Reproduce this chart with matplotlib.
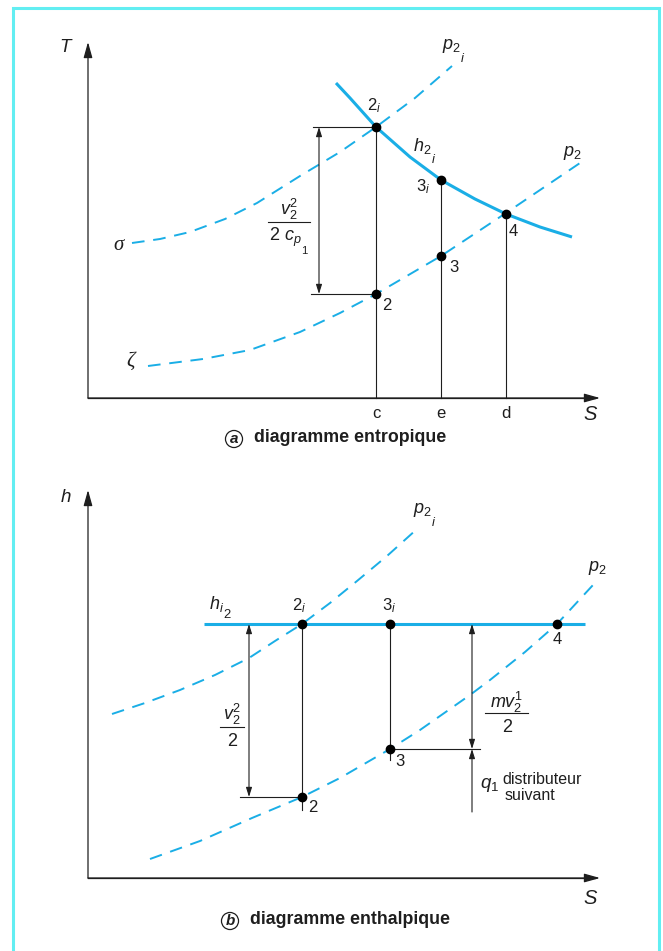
import matplotlib
matplotlib.use("Agg")
import matplotlib.pyplot as plt
from matplotlib.patches import Rectangle

plt.rcParams['font.family'] = ['Liberation Sans', 'DejaVu Sans']
plt.rcParams['mathtext.fontset'] = 'custom'
plt.rcParams['mathtext.rm'] = 'Liberation Sans'
plt.rcParams['mathtext.it'] = 'Liberation Sans:italic'
plt.rcParams['mathtext.bf'] = 'Liberation Sans:bold'

CYAN = '#1aaee6'
INK = '#1e1e1e'
FRAME = '#62eef2'

# ---------- (a) diagramme entropique : S horizontal, T vertical ----------
a_tick_labels = ['c', 'e', 'd']
a_tick_s = [288, 353, 418]

# isobar p2i (sigma)
a_sigma_s = [44, 72, 102, 137, 169, 212, 252, 288, 327, 364]
a_sigma_t = [155, 159, 166, 179, 195, 222, 246, 271, 300, 332]
# isobar p2 (zeta)
a_zeta_s = [60, 115, 162, 212, 252, 288, 353, 418, 492]
a_zeta_t = [32, 39, 48, 66, 85, 104, 142, 185, 235]
# iso-enthalpic h2i
a_h2i_s = [248, 262, 288, 322, 353, 387, 418, 452, 484]
a_h2i_t = [315, 300, 271, 241, 218, 199, 184, 171, 161]

a_point_names = ['$2_i$', '$3_i$', '4', '2', '3']
a_point_s = [288, 353, 418, 288, 353]
a_point_t = [271, 218, 184, 104, 142]

# ---------- (b) diagramme enthalpique : S horizontal, h vertical ----------
b_p2i_s = [24, 57, 92, 127, 161, 187, 214, 242, 269, 299, 329]
b_p2i_h = [164, 175, 188, 203, 220, 237, 254, 275, 297, 322, 349]
b_p2_s = [62, 112, 164, 214, 252, 302, 332, 382, 402, 437, 469, 505]
b_p2_h = [19, 37, 60, 81, 100, 129, 148, 183, 198, 226, 254, 293]
b_hi2_level = 254
b_hi2_span = [116, 497]

b_point_names = ['$2_i$', '$3_i$', '4', '3', '2']
b_point_s = [214, 302, 469, 302, 214]
b_point_h = [254, 254, 254, 129, 81]

W, H = 663, 951
fig = plt.figure(figsize=(W / 100, H / 100), dpi=100)
fig.patch.set_facecolor('white')

# frame around the whole figure (pixel coordinates)
fig.patches.append(Rectangle((12.5, -6), 646, H - 7.5 + 6, transform=None,
                             fill=False, ec=FRAME, lw=2.2))

# axes whose data units coincide with pixels, origin on each diagram's axes
split = 470
ax_a = fig.add_axes([0, 1 - split / H, 1, split / H])
ax_a.set_xlim(-88, W - 88)
ax_a.set_ylim(398 - split, 398)
ax_b = fig.add_axes([0, 0, 1, (H - split) / H])
ax_b.set_xlim(-88, W - 88)
ax_b.set_ylim(878 - H, 878 - split)
for ax in (ax_a, ax_b):
    ax.set_axis_off()
    ax.patch.set_alpha(0)

FS = 12        # state labels
FM = 13        # symbols
dash = dict(color=CYAN, lw=1.4, ls=(0, (6.5, 4.5)), solid_capstyle='butt',
            dash_capstyle='butt')


def axis_arrows(ax, top, right):
    big = dict(arrowstyle='-|>,head_length=0.68,head_width=0.19', color=INK,
               lw=0.9, shrinkA=0, shrinkB=0, mutation_scale=14)
    ax.annotate('', xy=(0, top), xytext=(0, 0), arrowprops=big)
    ax.annotate('', xy=(right, 0), xytext=(0, 0), arrowprops=big)
    ax.plot([-0.5, right - 5], [0, 0], color=INK, lw=0.9)


def dim_arrow(ax, s, h0, h1, style='<|-|>'):
    ax.annotate('', xy=(s, h1), xytext=(s, h0),
                arrowprops=dict(arrowstyle=style + ',head_length=0.7,head_width=0.22',
                                color=INK, lw=0.8, shrinkA=0, shrinkB=0,
                                mutation_scale=8))


def nested(ax, x, y, base, inner, fs=FM, ha='left', dx=-0.6, dy=-2.2, scale=0.72):
    """Symbol with a second-level index kept close to first-level size."""
    t = ax.text(x, y, base, ha=ha, va='center', fontsize=fs, color=INK)
    ax.annotate(inner, xy=(1, 0), xycoords=t, xytext=(dx, dy),
                textcoords='offset points', ha='left', va='center',
                fontsize=fs * scale, color=INK)
    return t


def fraction(ax, x, num, y_num, y_bar, y_den, x0, x1, den=None, fs=FM):
    ax.text(x, y_num, num, ha='center', va='center', fontsize=fs, color=INK)
    ax.plot([x0, x1], [y_bar, y_bar], color=INK, lw=0.8)
    if den is not None:
        ax.text(x, y_den, den, ha='center', va='center', fontsize=fs, color=INK)


def caption(ax, s, h, letter, words):
    ax.text(s, h, letter, ha='center', va='center', fontsize=11,
            fontweight='bold', fontstyle='italic', color=INK,
            bbox=dict(boxstyle='circle,pad=0.1', fc='white', ec=INK, lw=0.9))
    ax.text(s + 20, h + 1, words, ha='left', va='center', fontsize=12.8,
            fontweight='bold', color=INK)


# ---------------- panel (a) ----------------
ax = ax_a
axis_arrows(ax, 356, 512)
ax.text(-22, 351, '$T$', ha='center', va='center', fontsize=FM + 0.5, color=INK)
ax.text(503, -17, '$S$', ha='center', va='center', fontsize=FM + 1.5, color=INK)
for lab, s in zip(a_tick_labels, a_tick_s):
    ax.text(s, -16, lab, ha='center', va='center', fontsize=FS, color=INK)

ax.plot(a_sigma_s, a_sigma_t, **dash)
ax.plot(a_zeta_s, a_zeta_t, **dash)
ax.plot(a_h2i_s, a_h2i_t, color=CYAN, lw=2.2, solid_capstyle='butt')

# vertical state lines down to the S axis
for s, t in zip(a_point_s[:3], a_point_t[:3]):
    ax.plot([s, s], [t, 0], color=INK, lw=0.8)
# dimension of v2^2 / 2cp1
ax.plot([225, a_point_s[0]], [a_point_t[0]] * 2, color=INK, lw=0.8)
ax.plot([223, a_point_s[3]], [a_point_t[3]] * 2, color=INK, lw=0.8)
dim_arrow(ax, 231, a_point_t[3], a_point_t[0])
fraction(ax, 201, '$v_2^2$', 189, 176, 161, 180, 222)
nested(ax, 181, 161, '$2\\ c_p$', '1', dx=-0.4, dy=-1.6, scale=0.62)

ax.plot(a_point_s, a_point_t, 'o', color='black', ms=6, zorder=5)

ax.text(30, 152, 'σ', ha='center', va='center', fontsize=15,
        family='Liberation Serif', style='italic', color=INK)
ax.text(43, 37, 'ζ', ha='center', va='center', fontsize=15,
        family='Liberation Serif', style='italic', color=INK)
nested(ax, 354, 352, '$p_2$', '$i$')
ax.text(475, 245, '$p_2$', ha='left', va='center', fontsize=FM, color=INK)
nested(ax, 325, 252, '$h_2$', '$i$')
a_label_pos = [(279, 292), (328, 211), (421, 166), (294, 93), (361, 130)]
for name, (s, t) in zip(a_point_names, a_label_pos):
    ax.text(s, t, name, ha='left', va='center', fontsize=FS, color=INK)

caption(ax, 146, -41, 'a', 'diagramme entropique')

# ---------------- panel (b) ----------------
ax = ax_b
axis_arrows(ax, 388, 512)
ax.text(-22, 381, '$h$', ha='center', va='center', fontsize=FM + 0.5, color=INK)
ax.text(503, -20, '$S$', ha='center', va='center', fontsize=FM + 1.5, color=INK)

ax.plot(b_p2i_s, b_p2i_h, **dash)
ax.plot(b_p2_s, b_p2_h, **dash)
ax.plot(b_hi2_span, [b_hi2_level] * 2, color=CYAN, lw=2.2, solid_capstyle='butt')

ax.plot([b_point_s[0]] * 2, [b_hi2_level, 68], color=INK, lw=0.8)
ax.plot([b_point_s[1]] * 2, [b_hi2_level, 118], color=INK, lw=0.8)
ax.plot([152, b_point_s[4]], [b_point_h[4]] * 2, color=INK, lw=0.8)
dim_arrow(ax, 161, b_point_h[4], b_hi2_level)
ax.plot([b_point_s[3], 392], [b_point_h[3]] * 2, color=INK, lw=0.8)
dim_arrow(ax, 384, b_point_h[3], b_hi2_level)
dim_arrow(ax, 384, 66, b_point_h[3], style='-|>')

fraction(ax, 144, '$v_2^2$', 164, 151, 137, 132, 156, den='2')
fraction(ax, 419, '$mv_2^1$', 176, 165, 151, 397, 440, den='2')
ax.text(392, 93, '$q_1$', ha='left', va='center', fontsize=FM + 0.5, color=INK)
ax.text(414, 98, 'distributeur', ha='left', va='center', fontsize=11.5, color=INK)
ax.text(417, 82, 'suivant', ha='left', va='center', fontsize=11.5, color=INK)

ax.plot(b_point_s, b_point_h, 'o', color='black', ms=6, zorder=5)

nested(ax, 325, 368, '$p_2$', '$i$')
ax.text(500, 310, '$p_2$', ha='left', va='center', fontsize=FM, color=INK)
nested(ax, 121, 274, '$h_i$', '2', dx=-0.3, dy=-1.0)
b_label_pos = [(204, 272), (294, 272), (465, 238), (307, 116), (220, 70)]
for name, (s, h) in zip(b_point_names, b_label_pos):
    ax.text(s, h, name, ha='left', va='center', fontsize=FS, color=INK)

caption(ax, 142, -43, 'b', 'diagramme enthalpique')

fig.savefig('out.png', dpi=100, facecolor='white')
